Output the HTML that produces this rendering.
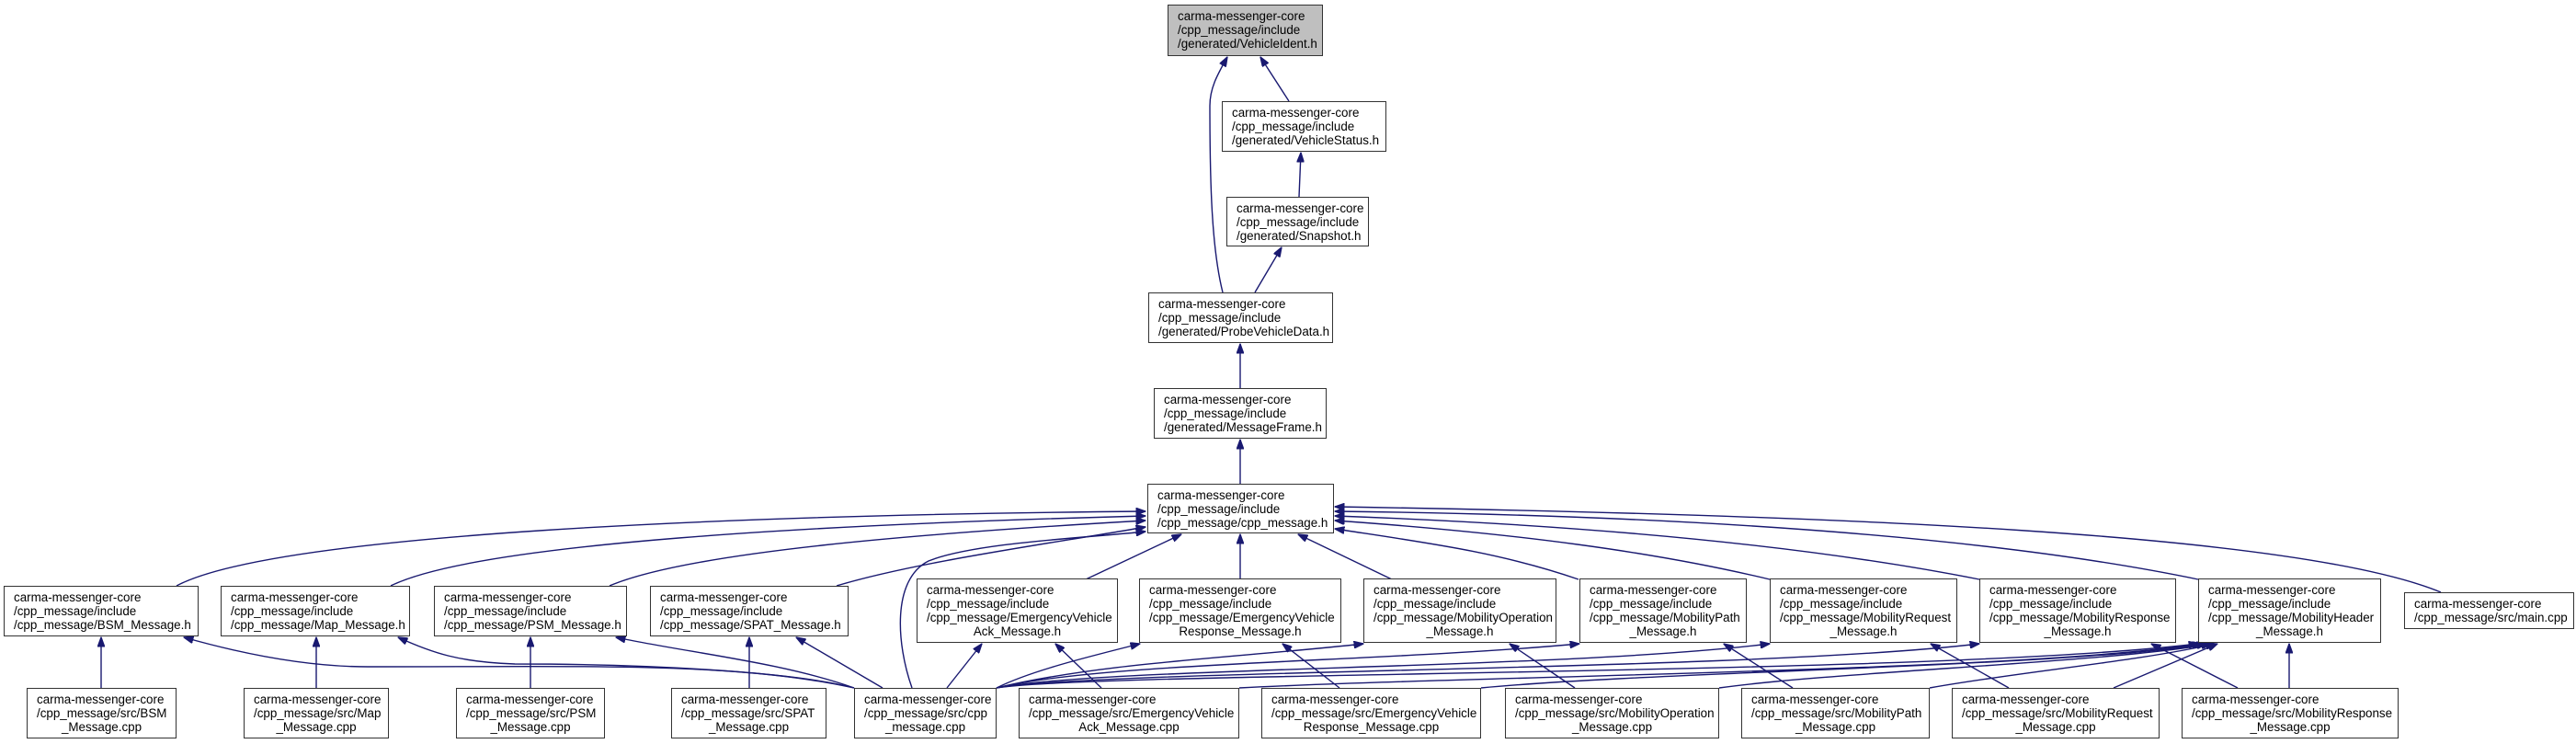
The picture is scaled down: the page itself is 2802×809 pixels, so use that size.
<!DOCTYPE html>
<html><head><meta charset="utf-8"><style>
html,body{margin:0;padding:0;background:#fff;}
body{width:2802px;height:809px;position:relative;overflow:hidden;font-family:"Liberation Sans",Arial,sans-serif;}
.b{position:absolute;box-sizing:border-box;border:1.5px solid #333;background:#fff;font-size:13.4px;line-height:15px;padding:4px 0 0 10px;color:#000;white-space:nowrap;}
.c{display:block;text-align:center;padding-right:10px;}
svg{position:absolute;left:0;top:0;}
</style></head><body>
<svg width="2802" height="809" viewBox="0 0 2802 809">
<defs><marker id="a" markerWidth="11" markerHeight="8" refX="10.5" refY="4" orient="auto" markerUnits="userSpaceOnUse"><path d="M0,0 L11,4 L0,8 z" fill="#191970" stroke="#191970"/></marker></defs>
<g fill="none" stroke="#191970" stroke-width="1.4" marker-end="url(#a)">
<path d="M1402,110 L1371,62"/>
<path d="M1330,318 C1318,270 1316,200 1316,115 C1316,95 1325,80 1335,62"/>
<path d="M1413,214 L1415,166"/>
<path d="M1365,318 L1394,269"/>
<path d="M1349,422 L1349,374"/>
<path d="M1349,526 L1349,478"/>
<path d="M192,637 C300,580 800,560 1246,556"/>
<path d="M425,637 C520,590 900,570 1246,561"/>
<path d="M663,637 C750,600 1000,580 1246,566"/>
<path d="M910,637 C1000,610 1150,590 1246,573"/>
<path d="M992,748 C975,700 970,630 1010,610 C1060,590 1180,585 1246,578"/>
<path d="M1181,630 L1285,581"/>
<path d="M1349,630 L1349,581"/>
<path d="M1514,630 L1412,581"/>
<path d="M1717,630 C1630,600 1550,590 1452,575"/>
<path d="M1925,630 C1800,600 1650,580 1452,566"/>
<path d="M2153,630 C1950,590 1700,570 1452,561"/>
<path d="M2391,630 C2150,580 1800,560 1452,556"/>
<path d="M2655,644 C2500,580 2000,560 1452,551"/>
<path d="M110,748 L110,693"/>
<path d="M344,748 L344,693"/>
<path d="M577,748 L577,693"/>
<path d="M815,748 L815,693"/>
<path d="M929,748 C800,720 650,725 400,725 C330,725 260,710 200,693"/>
<path d="M929,748 C860,730 700,722 560,722 C500,720 470,710 433,693"/>
<path d="M929,748 C850,720 750,710 670,693"/>
<path d="M960,748 L866,693"/>
<path d="M1030,748 L1068,700"/>
<path d="M1198,748 L1148,700"/>
<path d="M1084,748 C1120,730 1180,715 1240,700"/>
<path d="M1457,748 L1395,700"/>
<path d="M1084,748 C1200,720 1350,715 1483,700"/>
<path d="M1713,748 L1642,700"/>
<path d="M1084,748 C1200,720 1500,720 1718,700"/>
<path d="M1950,748 L1875,700"/>
<path d="M1084,748 C1200,725 1700,728 1925,700"/>
<path d="M1084,748 C1200,728 1900,730 2153,700"/>
<path d="M1084,748 C1200,730 2100,735 2391,700"/>
<path d="M2185,748 L2100,700"/>
<path d="M2434,748 L2340,700"/>
<path d="M2490,748 L2490,700"/>
<path d="M1348,748 C1600,735 2200,730 2395,700"/>
<path d="M1611,748 C1800,730 2250,725 2400,700"/>
<path d="M1870,748 C2000,730 2300,720 2405,700"/>
<path d="M2099,748 C2200,730 2320,720 2410,700"/>
<path d="M2299,748 L2412,700"/>
</g>
</svg>
<div class="b" style="left:1270px;top:5px;width:169px;height:56px;background:#bfbfbf">carma-messenger-core<br>/cpp_message/include<br>/generated/VehicleIdent.h</div>
<div class="b" style="left:1329px;top:110px;width:179px;height:55px">carma-messenger-core<br>/cpp_message/include<br>/generated/VehicleStatus.h</div>
<div class="b" style="left:1334px;top:214px;width:155px;height:54px">carma-messenger-core<br>/cpp_message/include<br>/generated/Snapshot.h</div>
<div class="b" style="left:1249px;top:318px;width:201px;height:55px">carma-messenger-core<br>/cpp_message/include<br>/generated/ProbeVehicleData.h</div>
<div class="b" style="left:1255px;top:422px;width:188px;height:55px">carma-messenger-core<br>/cpp_message/include<br>/generated/MessageFrame.h</div>
<div class="b" style="left:1248px;top:526px;width:203px;height:54px">carma-messenger-core<br>/cpp_message/include<br>/cpp_message/cpp_message.h</div>

<div class="b" style="left:4px;top:637px;width:212px;height:55px">carma-messenger-core<br>/cpp_message/include<br>/cpp_message/BSM_Message.h</div>
<div class="b" style="left:240px;top:637px;width:206px;height:55px">carma-messenger-core<br>/cpp_message/include<br>/cpp_message/Map_Message.h</div>
<div class="b" style="left:472px;top:637px;width:210px;height:55px">carma-messenger-core<br>/cpp_message/include<br>/cpp_message/PSM_Message.h</div>
<div class="b" style="left:707px;top:637px;width:216px;height:55px">carma-messenger-core<br>/cpp_message/include<br>/cpp_message/SPAT_Message.h</div>
<div class="b" style="left:997px;top:629px;width:219px;height:70px">carma-messenger-core<br>/cpp_message/include<br>/cpp_message/EmergencyVehicle<span class="c">Ack_Message.h</span></div>
<div class="b" style="left:1239px;top:629px;width:220px;height:70px">carma-messenger-core<br>/cpp_message/include<br>/cpp_message/EmergencyVehicle<span class="c">Response_Message.h</span></div>
<div class="b" style="left:1483px;top:629px;width:210px;height:70px">carma-messenger-core<br>/cpp_message/include<br>/cpp_message/MobilityOperation<span class="c">_Message.h</span></div>
<div class="b" style="left:1718px;top:629px;width:182px;height:70px">carma-messenger-core<br>/cpp_message/include<br>/cpp_message/MobilityPath<span class="c">_Message.h</span></div>
<div class="b" style="left:1925px;top:629px;width:204px;height:70px">carma-messenger-core<br>/cpp_message/include<br>/cpp_message/MobilityRequest<span class="c">_Message.h</span></div>
<div class="b" style="left:2153px;top:629px;width:214px;height:70px">carma-messenger-core<br>/cpp_message/include<br>/cpp_message/MobilityResponse<span class="c">_Message.h</span></div>
<div class="b" style="left:2391px;top:629px;width:199px;height:70px">carma-messenger-core<br>/cpp_message/include<br>/cpp_message/MobilityHeader<span class="c">_Message.h</span></div>
<div class="b" style="left:2615px;top:644px;width:185px;height:40px">carma-messenger-core<br>/cpp_message/src/main.cpp</div>

<div class="b" style="left:29px;top:748px;width:163px;height:55px">carma-messenger-core<br>/cpp_message/src/BSM<span class="c">_Message.cpp</span></div>
<div class="b" style="left:265px;top:748px;width:158px;height:55px">carma-messenger-core<br>/cpp_message/src/Map<span class="c">_Message.cpp</span></div>
<div class="b" style="left:496px;top:748px;width:162px;height:55px">carma-messenger-core<br>/cpp_message/src/PSM<span class="c">_Message.cpp</span></div>
<div class="b" style="left:730px;top:748px;width:169px;height:55px">carma-messenger-core<br>/cpp_message/src/SPAT<span class="c">_Message.cpp</span></div>
<div class="b" style="left:929px;top:748px;width:155px;height:55px">carma-messenger-core<br>/cpp_message/src/cpp<span class="c">_message.cpp</span></div>
<div class="b" style="left:1108px;top:748px;width:240px;height:55px">carma-messenger-core<br>/cpp_message/src/EmergencyVehicle<span class="c">Ack_Message.cpp</span></div>
<div class="b" style="left:1372px;top:748px;width:239px;height:55px">carma-messenger-core<br>/cpp_message/src/EmergencyVehicle<span class="c">Response_Message.cpp</span></div>
<div class="b" style="left:1637px;top:748px;width:233px;height:55px">carma-messenger-core<br>/cpp_message/src/MobilityOperation<span class="c">_Message.cpp</span></div>
<div class="b" style="left:1894px;top:748px;width:205px;height:55px">carma-messenger-core<br>/cpp_message/src/MobilityPath<span class="c">_Message.cpp</span></div>
<div class="b" style="left:2123px;top:748px;width:226px;height:55px">carma-messenger-core<br>/cpp_message/src/MobilityRequest<span class="c">_Message.cpp</span></div>
<div class="b" style="left:2373px;top:748px;width:236px;height:55px">carma-messenger-core<br>/cpp_message/src/MobilityResponse<span class="c">_Message.cpp</span></div>
</body></html>
